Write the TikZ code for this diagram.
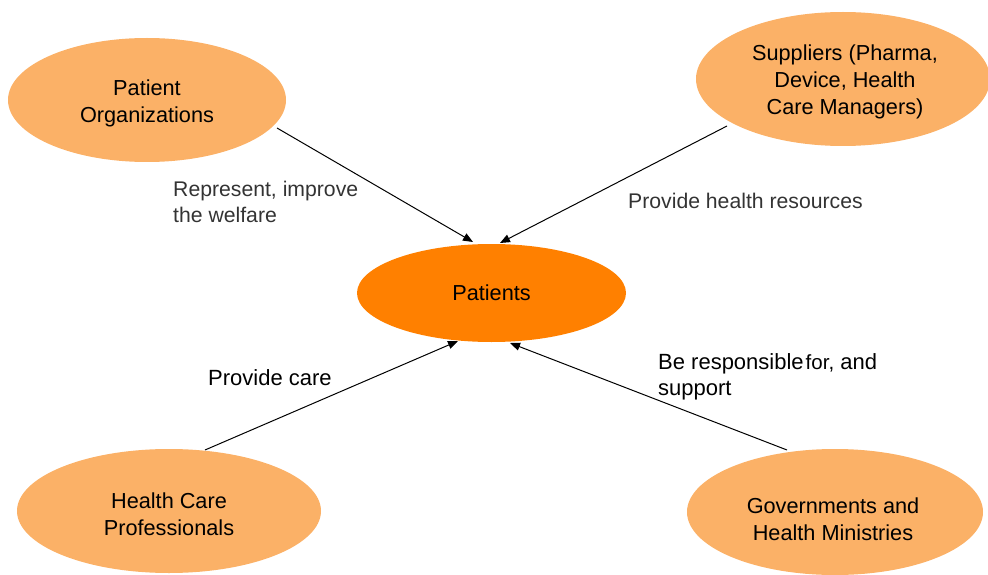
\documentclass[tikz,border=0pt]{standalone}
\usepackage{fontspec}
\setmainfont{Liberation Sans}
\usetikzlibrary{shapes.geometric,arrows.meta}
\definecolor{lightor}{HTML}{FBB167}
\definecolor{darkor}{HTML}{FF8000}
\definecolor{labgray}{HTML}{333333}
\tikzset{
  actor/.style={ellipse, fill=lightor, draw=none, inner sep=0pt},
  center/.style={ellipse, fill=darkor, draw=none, inner sep=0pt, align=center,
    font=\fontsize{21.7}{27}\selectfont},
  etext/.style={align=center, inner sep=0pt, font=\fontsize{21.7}{27}\selectfont},
  lab/.style={anchor=base west, align=left, inner sep=0pt, text=labgray,
    font=\fontsize{21.2}{25}\selectfont},
  blab/.style={lab, text=black, font=\fontsize{22}{25.5}\selectfont},
  conn/.style={line width=1pt, -{Triangle[length=10pt,width=8pt]}}
}
\begin{document}
\begin{tikzpicture}[x=1pt,y=-1pt]
\useasboundingbox (0,0) rectangle (988,575);
\node[actor, minimum width=278pt, minimum height=124pt] (po) at (147,100) {};
\node[etext] (pot) at (147,103.5) {Patient\\Organizations};
\node[actor, minimum width=294pt, minimum height=134pt] (sup) at (843,79) {};
\node[etext] (supt) at (845,82) {Suppliers (Pharma,\\Device, Health\\Care Managers)};
\node[actor, minimum width=304pt, minimum height=124pt] (hcp) at (169,511) {};
\node[etext] (hcpt) at (169,514) {Health Care\\Professionals};
\node[actor, minimum width=296pt, minimum height=126pt] (gov) at (835,512) {};
\node[etext] (govt) at (833,519) {Governments and\\Health Ministries};
\node[center, minimum width=269pt, minimum height=98pt] (pat) at (491.5,293) {Patients};

\coordinate (a1) at (277,128);
\coordinate (b1) at (473,242);
\coordinate (a2) at (727,126);
\coordinate (b2) at (500,243);
\coordinate (a3) at (205,450);
\coordinate (b3) at (458,341);
\coordinate (a4) at (787,450);
\coordinate (b4) at (510,343);
\draw[conn] (a1) -- (b1);
\draw[conn] (a2) -- (b2);
\draw[conn] (a3) -- (b3);
\draw[conn] (a4) -- (b4);

\node[lab] (l1) at (173,222) {Represent, improve\\the welfare};
\node[lab] (l2) at (628,208) {Provide health resources};
\node[blab] (l3) at (208,385) {Provide care};
\node[blab] (l4) at (658,395) {Be responsible\hspace{2pt}{\fontsize{20.5}{24}\selectfont for,} and\\support};
\end{tikzpicture}
\end{document}
